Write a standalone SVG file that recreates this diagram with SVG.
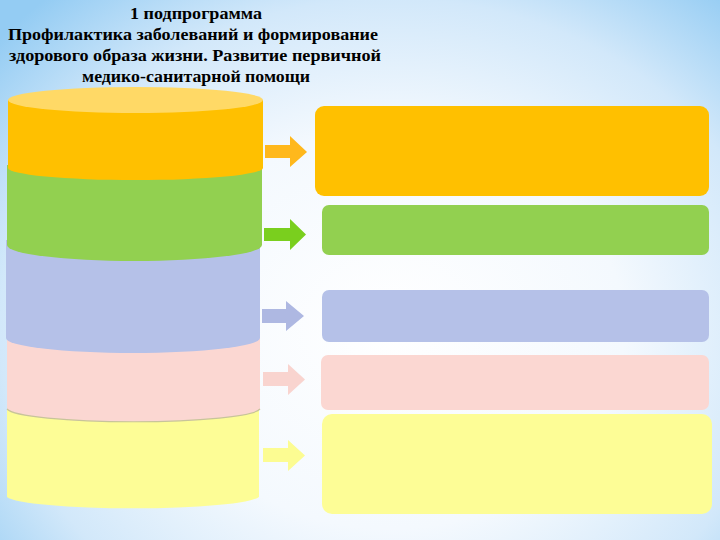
<svg xmlns="http://www.w3.org/2000/svg" width="720" height="540" viewBox="0 0 720 540">
<defs>
<radialGradient id="bg" cx="390" cy="330" r="520" gradientUnits="userSpaceOnUse" gradientTransform="translate(390 330) scale(1 0.85) translate(-390 -330)">
<stop offset="0" stop-color="#FFFFFF"/>
<stop offset="0.45" stop-color="#F4F9FE"/>
<stop offset="0.75" stop-color="#D2E8FA"/>
<stop offset="1" stop-color="#94CCF3"/>
</radialGradient>
<style>
.title{font-family:"Liberation Serif","Times New Roman",serif;font-weight:bold;font-size:17.5px;fill:#000;text-anchor:middle}
</style>
</defs>
<rect width="720" height="540" fill="url(#bg)"/>
<g id="title">
<text class="title" x="196" y="19" textLength="132" lengthAdjust="spacingAndGlyphs">1 подпрограмма</text>
<text class="title" x="193" y="40" textLength="370" lengthAdjust="spacingAndGlyphs">Профилактика заболеваний и формирование</text>
<text class="title" x="195" y="61" textLength="372" lengthAdjust="spacingAndGlyphs">здорового образа жизни. Развитие первичной</text>
<text class="title" x="196" y="82" textLength="228" lengthAdjust="spacingAndGlyphs">медико-санитарной помощи</text>
</g>
<g id="cylinder">
<path id="seg-yellow" d="M7 405 L7 497 A127 13 0 0 0 259 497 L259 405 Z" fill="#FDFD96"/>
<path id="seg-pink" d="M7 330 L7 409 A127 14 0 0 0 260 409 L260 330 Z" fill="#FBD7D2"/>
<path d="M7 409 A127 14 0 0 0 260 409" fill="none" stroke="#C8C49A" stroke-width="1.2"/>
<path id="seg-blue" d="M6 240 L6 338 A127 15 0 0 0 260 338 L260 240 Z" fill="#B5C1E8"/>
<path id="seg-green" d="M7 165 L7 245 A127 16 0 0 0 262 245 L262 165 Z" fill="#92D050"/>
<path id="seg-orange" d="M8 100 L8 168 A127 12 0 0 0 263 168 L263 100 Z" fill="#FFC000"/>
<ellipse id="cyl-top" cx="135.5" cy="100" rx="127.5" ry="13" fill="#FFD966"/>
</g>
<g id="connectors">
<path d="M265 145 L290 145 L290 136 L307 152 L290 167 L290 158 L265 158 Z" fill="#FFB81C"/>
<path d="M264 228 L290 228 L290 219 L306 234.5 L290 250 L290 241 L264 241 Z" fill="#7ACF1E"/>
<path d="M262 309 L286 309 L286 301 L304 316 L286 331 L286 323 L262 323 Z" fill="#AEB8E2"/>
<path d="M263 372 L288 372 L288 364 L305 379.5 L288 395 L288 386 L263 386 Z" fill="#F9D4CF"/>
<path d="M263 448 L288 448 L288 440 L305 455.5 L288 471 L288 462 L263 462 Z" fill="#FCFC92"/>
</g>
<g id="box-orange"><rect x="315" y="106" width="394" height="90" rx="9" fill="#FFC000"/></g>
<g id="box-green"><rect x="322" y="205" width="387" height="50" rx="7" fill="#92D050"/></g>
<g id="box-blue"><rect x="322" y="290" width="387" height="52" rx="7" fill="#B5C1E8"/></g>
<g id="box-pink"><rect x="321" y="355" width="388" height="55" rx="7" fill="#FBD7D2"/></g>
<g id="box-yellow"><rect x="322" y="414" width="390" height="100" rx="10" fill="#FDFD96"/></g>
</svg>
